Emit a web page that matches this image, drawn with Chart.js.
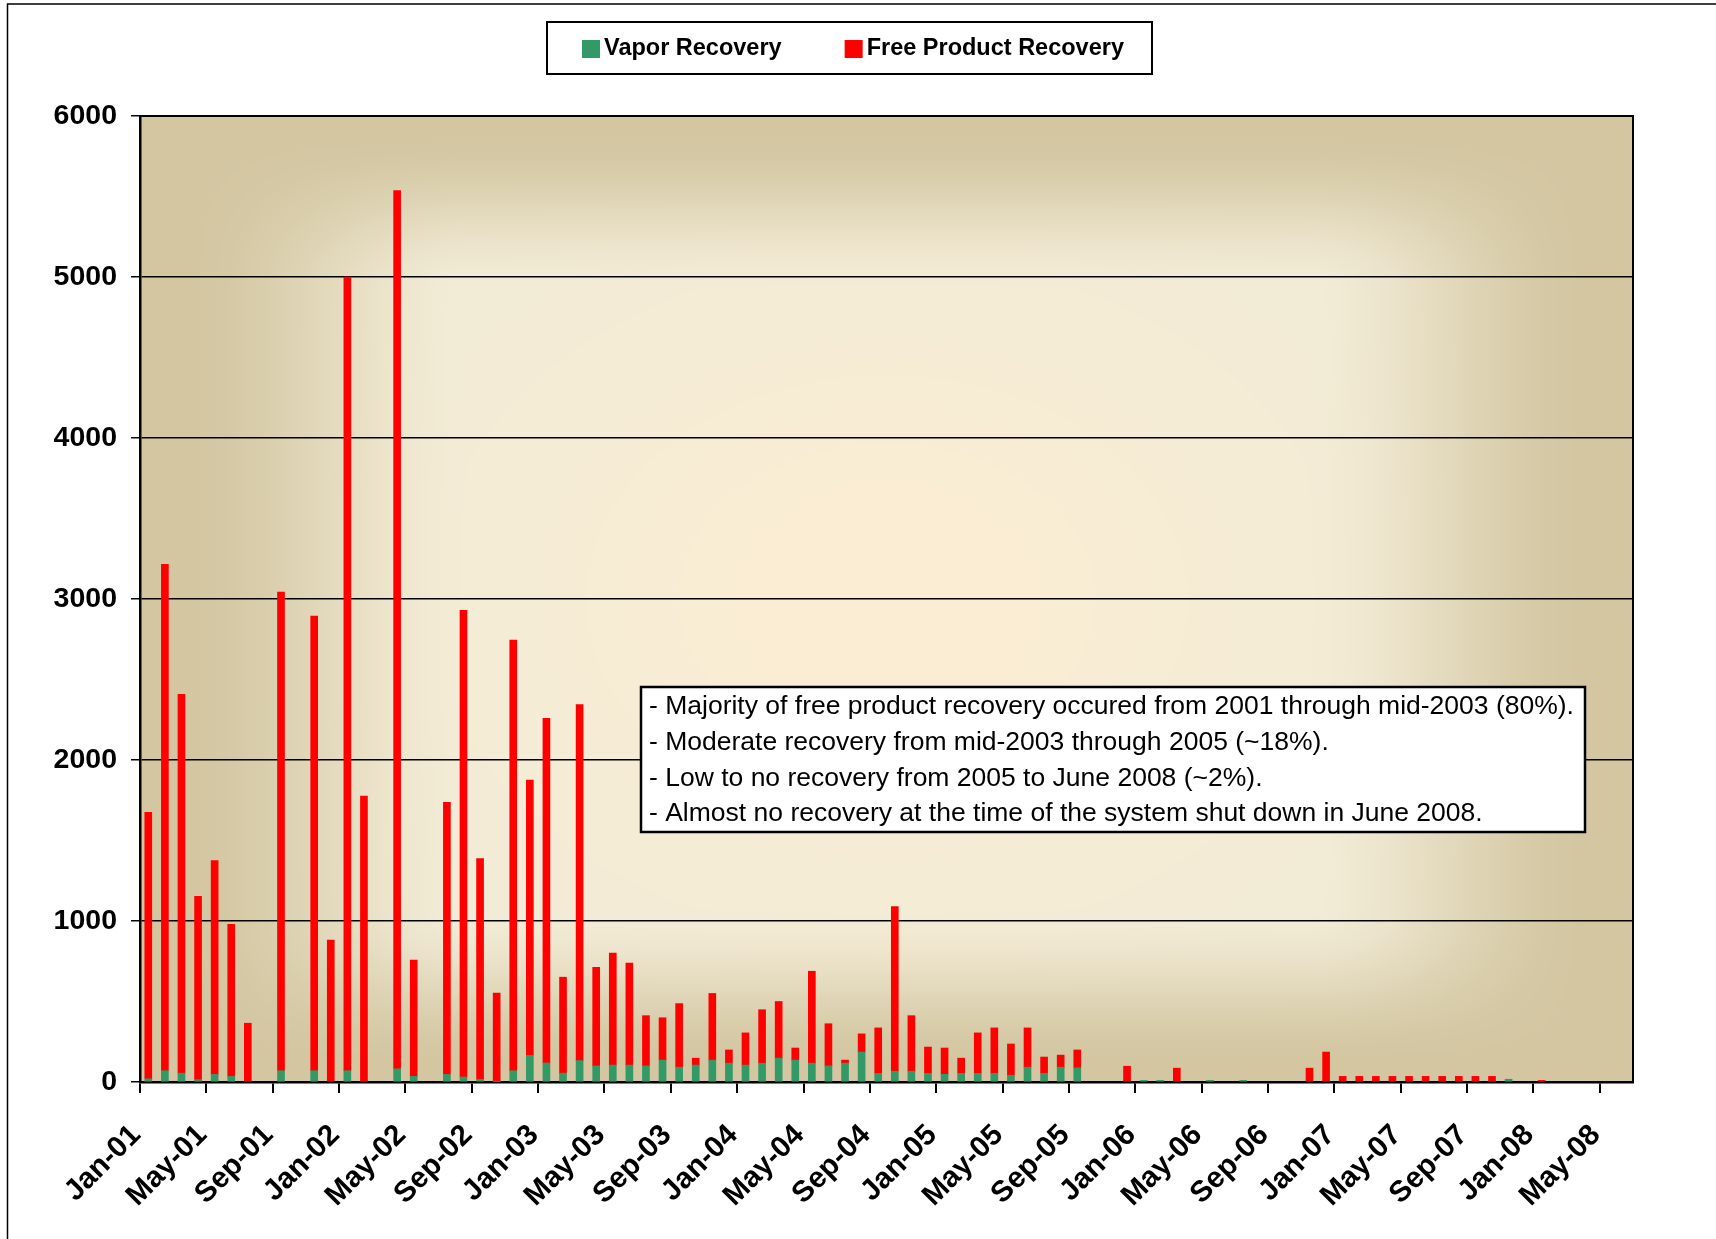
<!DOCTYPE html>
<html>
<head>
<meta charset="utf-8">
<title>Vapor and Free Product Recovery</title>
<script src="https://cdn.jsdelivr.net/npm/chart.js@4.4.0/dist/chart.umd.min.js"></script>
<style>
  html, body { margin: 0; padding: 0; background: #fff; }
  #wrap { position: relative; width: 1716px; height: 1239px; }
</style>
</head>
<body>
<div id="wrap"><canvas id="chart"></canvas></div>
<script>
const FONT = "'Liberation Sans', Arial, sans-serif";

// one entry per month starting Jan-01 (index 0), null = no recovery logged
const vapor = [
  20, 70, 55, 15, 47, 35, null, null, 70, null, 70, null,          // 2001
  70, null, null, 82, 35, null, 47, 31, 16, 4, 70, 165,            // 2002
  118, 55, 133, 100, 105, 105, 100, 136, 92, 105, 136, 117,        // 2003
  105, 117, 148, 136, 117, 100, 117, 186, 54, 67, 67, 54,          // 2004
  48, 54, 54, 54, 42, 92, 54, 92, 88, null, null, null,            // 2005
  10, 10, null, null, 10, null, 10, null, null, null, null, null,  // 2006
  null, null, null, null, null, null, null, null, null, null, 17, null, // 2007
  null, null, null, null, null, null                               // 2008
];
const freeProduct = [
  1655, 3146, 2353, 1138, 1329, 945, 365, null, 2973, null, 2824, 882,
  4930, 1776, null, 5455, 722, null, 1690, 2898, 1372, 549, 2675, 1710,
  2141, 596, 2212, 613, 695, 633, 312, 263, 395, 43, 414, 82,
  200, 332, 352, 75, 571, 262, 19, 113, 282, 1022, 345, 163,
  163, 94, 251, 282, 194, 244, 101, 75, 111, null, null, 98,
  null, null, 86, null, null, null, null, null, null, null, 86, 186,
  35, 35, 35, 35, 35, 35, 35, 35, 35, 35, null, null,
  10, null, null, null, null, null
];
const tickLabels = [
  'Jan-01', 'May-01', 'Sep-01', 'Jan-02', 'May-02', 'Sep-02', 'Jan-03', 'May-03',
  'Sep-03', 'Jan-04', 'May-04', 'Sep-04', 'Jan-05', 'May-05', 'Sep-05', 'Jan-06',
  'May-06', 'Sep-06', 'Jan-07', 'May-07', 'Sep-07', 'Jan-08', 'May-08'
];
const notes = [
  '- Majority of free product recovery occured from 2001 through mid-2003 (80%).',
  '- Moderate recovery from mid-2003 through 2005 (~18%).',
  '- Low to no recovery from 2005 to June 2008 (~2%).',
  '- Almost no recovery at the time of the system shut down in June 2008.'
];

// bars sit in the middle of their month on a linear month axis
function toPoints(arr) {
  const pts = [];
  arr.forEach((v, i) => { if (v != null) pts.push({ x: i + 0.5, y: v }); });
  return pts;
}

function smooth(a, b, x) {
  let t = (x - a) / (b - a);
  t = Math.max(0, Math.min(1, t));
  return t * t * (3 - 2 * t);
}

let shadeCache = null;
function shadeImage(w, h) {
  if (shadeCache && shadeCache.width === w && shadeCache.height === h) return shadeCache;
  const c = document.createElement('canvas');
  c.width = w; c.height = h;
  const g = c.getContext('2d');
  const img = g.createImageData(w, h);
  const edge = [211, 198, 161], light = [241, 235, 214], warm = [251, 237, 211];
  const cx = w * 0.5, cy = h * 0.5;
  for (let y = 0; y < h; y++) {
    const v = Math.abs(y - cy) / cy;
    const ty = smooth(0.64, 0.97, v);
    for (let x = 0; x < w; x++) {
      const u = Math.abs(x - cx) / cx;
      const tx = smooth(0.56, 0.95, u);
      const t = 1 - (1 - tx) * (1 - ty);
      const gx = (x - cx) / (w * 0.26), gy = (y - cy) / (h * 0.3);
      const glow = Math.exp(-(gx * gx + gy * gy));
      const k = (y * w + x) * 4;
      for (let ch = 0; ch < 3; ch++) {
        const base = light[ch] + (warm[ch] - light[ch]) * glow;
        img.data[k + ch] = base + (edge[ch] - base) * t;
      }
      img.data[k + 3] = 255;
    }
  }
  g.putImageData(img, 0, 0);
  shadeCache = c;
  return c;
}

const plotBackground = {
  id: 'plotBackground',
  beforeDraw(chart) {
    const { ctx, chartArea: a } = chart;
    ctx.save();
    // page frame
    ctx.strokeStyle = '#000';
    ctx.lineWidth = 1.5;
    ctx.beginPath();
    ctx.moveTo(7.5, chart.height);
    ctx.lineTo(7.5, 4);
    ctx.lineTo(chart.width, 4);
    ctx.stroke();
    const w = Math.round(a.right - a.left), h = Math.round(a.bottom - a.top);
    ctx.drawImage(shadeImage(w, h), a.left, a.top);
    ctx.restore();
  },
  afterDatasetsDraw(chart) {
    const { ctx, chartArea: a } = chart;
    ctx.save();
    ctx.strokeStyle = '#000';
    ctx.lineWidth = 2;
    ctx.beginPath();
    ctx.moveTo(a.left, a.top);
    ctx.lineTo(a.right, a.top);
    ctx.lineTo(a.right, a.bottom);
    ctx.stroke();
    ctx.restore();
  }
};

const legendBox = {
  id: 'legendBox',
  afterDraw(chart) {
    const ctx = chart.ctx;
    const box = { left: 547, top: 22, width: 605, height: 52 };
    ctx.save();
    ctx.fillStyle = '#fff';
    ctx.fillRect(box.left, box.top, box.width, box.height);
    ctx.strokeStyle = '#000';
    ctx.lineWidth = 2;
    ctx.strokeRect(box.left, box.top, box.width, box.height);
    ctx.font = 'bold 23.5px ' + FONT;
    ctx.textBaseline = 'middle';
    const midY = box.top + box.height / 2 + 1;
    let x = box.left + 35;
    chart.data.datasets.forEach(ds => {
      ctx.fillStyle = ds.backgroundColor;
      ctx.fillRect(x, midY - 9, 18, 18);
      ctx.fillStyle = '#000';
      ctx.fillText(ds.label, x + 22, midY);
      x += 22 + ctx.measureText(ds.label).width + 63;
    });
    ctx.restore();
  }
};

const noteBox = {
  id: 'noteBox',
  afterDraw(chart) {
    const ctx = chart.ctx;
    const box = { left: 641, top: 687, width: 944, height: 145 };
    ctx.save();
    ctx.fillStyle = '#fff';
    ctx.fillRect(box.left, box.top, box.width, box.height);
    ctx.strokeStyle = '#000';
    ctx.lineWidth = 2.5;
    ctx.strokeRect(box.left, box.top, box.width, box.height);
    ctx.fillStyle = '#000';
    ctx.font = '26.5px ' + FONT;
    ctx.textBaseline = 'middle';
    notes.forEach((line, i) => {
      ctx.fillText(line, box.left + 8, box.top + 20 + i * 35.6);
    });
    ctx.restore();
  }
};

new Chart(document.getElementById('chart'), {
  type: 'bar',
  data: {
    datasets: [
      { label: 'Vapor Recovery', data: toPoints(vapor), backgroundColor: '#339966', barThickness: 7 },
      { label: 'Free Product Recovery', data: toPoints(freeProduct), backgroundColor: '#ff0000', barThickness: 7 }
    ]
  },
  options: {
    responsive: true,
    maintainAspectRatio: false,
    animation: false,
    layout: { padding: { left: 0, top: 116, right: 83, bottom: 0 } },
    plugins: {
      legend: { display: false },
      tooltip: { enabled: false }
    },
    scales: {
      x: {
        type: 'linear',
        min: 0,
        max: 90,
        offset: false,
        stacked: true,
        afterBuildTicks: s => { s.ticks = tickLabels.map((_, k) => ({ value: k * 4 })); },
        afterFit: s => { s.height = 157; },
        grid: { offset: false, drawOnChartArea: false, drawTicks: true, tickLength: 11, color: '#000', lineWidth: 2 },
        border: { color: '#000', width: 2.5 },
        ticks: {
          autoSkip: false,
          maxRotation: 45,
          minRotation: 45,
          padding: 25,
          labelOffset: -4,
          color: '#000',
          font: { family: FONT, size: 29.5, weight: 'bold' },
          callback: (v, i) => tickLabels[i]
        }
      },
      y: {
        min: 0,
        max: 6000,
        stacked: true,
        afterFit: s => { s.width = 140; },
        grid: { color: '#000', lineWidth: 1.5, tickLength: 9 },
        border: { color: '#000', width: 2.5 },
        ticks: {
          stepSize: 1000,
          padding: 14,
          color: '#000',
          font: { family: FONT, size: 28.5, weight: 'bold' },
          callback: v => String(v)
        }
      }
    }
  },
  plugins: [plotBackground, legendBox, noteBox]
});
</script>
</body>
</html>
